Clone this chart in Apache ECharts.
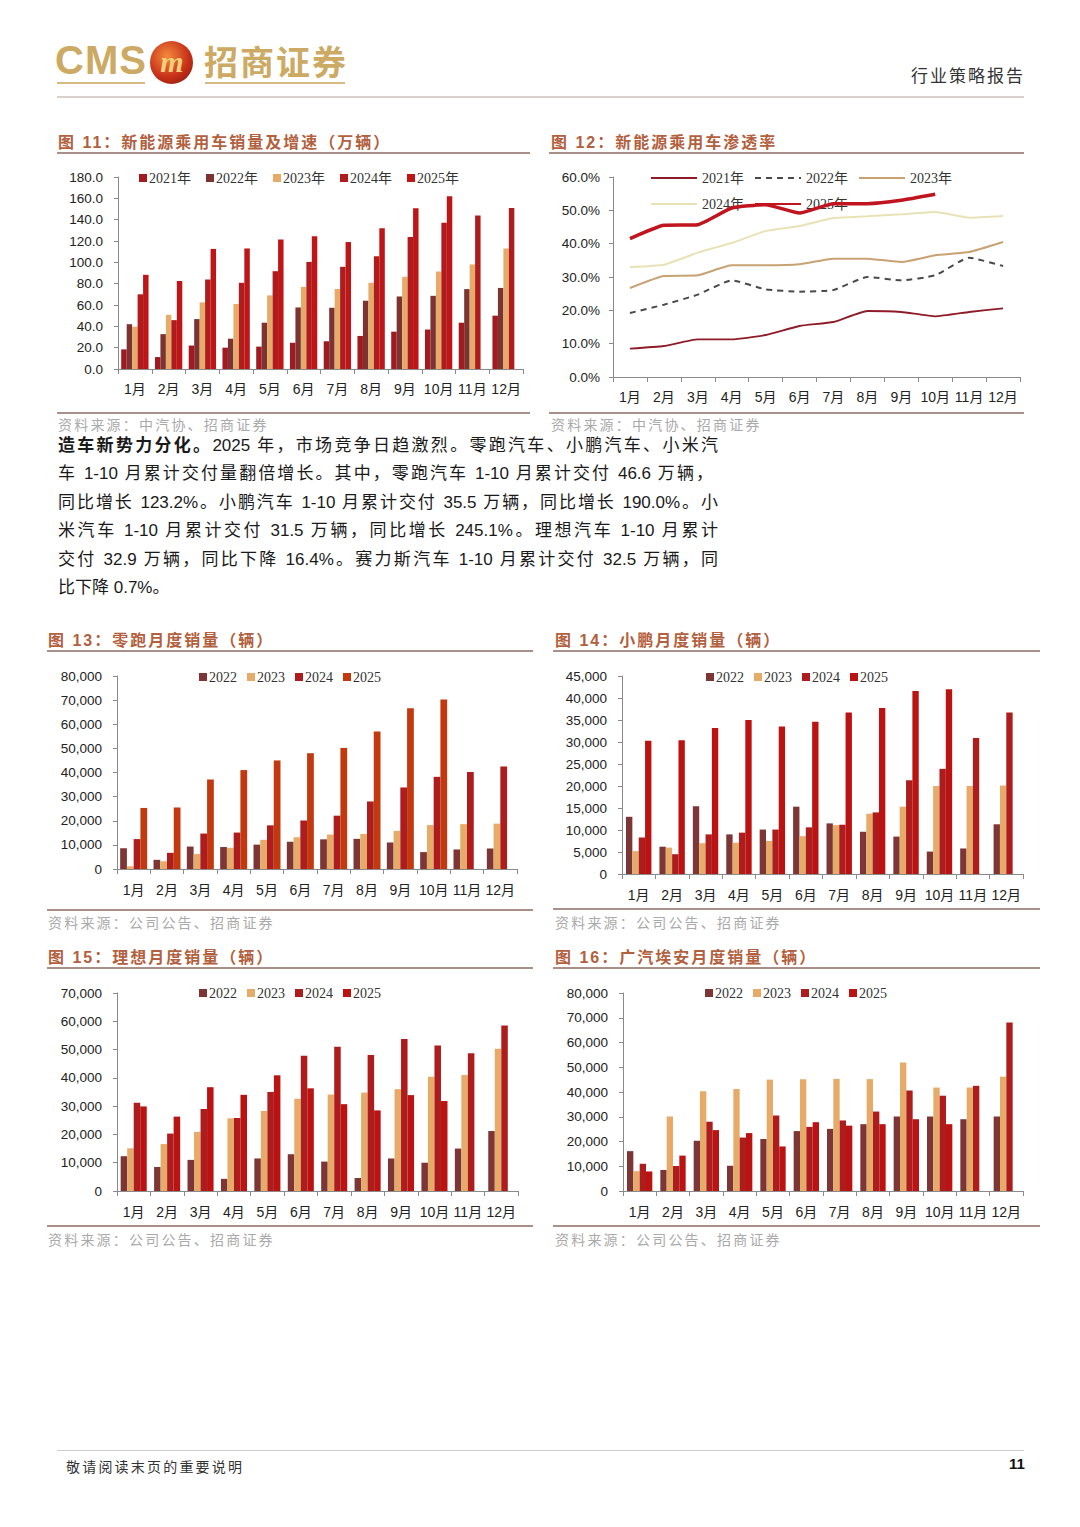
<!DOCTYPE html>
<html><head><meta charset="utf-8">
<script src="https://cdn.jsdelivr.net/npm/echarts@6/dist/echarts.min.js"></script>
<style>
html,body{margin:0;padding:0;background:#fff;}
body{width:1080px;height:1527px;position:relative;overflow:hidden;font-family:"Liberation Sans","Noto Sans CJK SC",sans-serif;color:#222;}
.abs{position:absolute;}
.hline{position:absolute;height:0;}
.ttl{position:absolute;font-size:16px;font-weight:700;color:#B2603E;letter-spacing:2px;white-space:nowrap;}
.src{position:absolute;font-size:14px;color:#AAAAAA;white-space:nowrap;letter-spacing:2.2px;}
.para{position:absolute;left:58px;width:660px;font-size:17px;line-height:28.4px;color:#1a1a1a;}
.para div{text-align:justify;text-align-last:justify;white-space:nowrap;height:28.4px;}
.para div.last{text-align-last:left;}
.chart{position:absolute;}
</style></head>
<body>
<!-- header -->
<div class="abs" style="left:55px;top:38px;font-size:40px;font-weight:700;color:#CDAA64;letter-spacing:1px;line-height:44px;">CMS</div>
<div class="abs" style="left:150px;top:41px;width:43px;height:43px;border-radius:50%;background:radial-gradient(circle at 40% 35%,#F28A3C,#C8321A 55%,#7E1208);"></div>
<div class="abs" style="left:156px;top:40px;width:32px;text-align:center;font-size:30px;font-weight:700;font-style:italic;color:#F3CF7A;line-height:44px;font-family:'Liberation Serif',serif;">m</div>
<div class="abs" style="left:204px;top:38px;font-size:34px;font-weight:700;color:#CDAA64;letter-spacing:2px;line-height:46px;font-family:'Noto Sans CJK SC';">招商证券</div>
<div class="hline" style="left:57px;top:82px;width:88px;border-top:2px solid #D6BB80;"></div>
<div class="hline" style="left:205px;top:82px;width:140px;border-top:2px solid #D6BB80;"></div>
<div class="abs" style="left:911px;top:62px;font-size:17px;color:#333;white-space:nowrap;letter-spacing:2px;">行业策略报告</div>
<div class="hline" style="left:57px;top:96px;width:967px;border-top:2px solid #DCD0CC;"></div>

<!-- fig 11 / 12 titles -->
<div class="ttl" style="left:58px;top:129px;">图 11：新能源乘用车销量及增速（万辆）</div>
<div class="hline" style="left:57px;top:152px;width:473px;border-top:2px solid #A89088;"></div>
<div class="ttl" style="left:551px;top:129px;">图 12：新能源乘用车渗透率</div>
<div class="hline" style="left:549px;top:152px;width:475px;border-top:2px solid #A89088;"></div>

<div id="c11" class="chart" style="left:50px;top:160px;width:490px;height:250px;"></div>
<div id="c12" class="chart" style="left:545px;top:160px;width:490px;height:250px;"></div>

<div class="hline" style="left:57px;top:412px;width:473px;border-top:2px solid #A89088;"></div>
<div class="hline" style="left:549px;top:412px;width:475px;border-top:2px solid #A89088;"></div>
<div class="src" style="left:58px;top:414px;">资料来源：中汽协、招商证券</div>
<div class="src" style="left:551px;top:414px;">资料来源：中汽协、招商证券</div>

<div class="para" style="top:432px;">
<div><b>造车新势力分化。</b>2025 年，市场竞争日趋激烈。零跑汽车、小鹏汽车、小米汽</div>
<div style="width:655px;">车 1-10 月累计交付量翻倍增长。其中，零跑汽车 1-10 月累计交付 46.6 万辆，</div>
<div>同比增长 123.2%。小鹏汽车 1-10 月累计交付 35.5 万辆，同比增长 190.0%。小</div>
<div>米汽车 1-10 月累计交付 31.5 万辆，同比增长 245.1%。理想汽车 1-10 月累计</div>
<div>交付 32.9 万辆，同比下降 16.4%。赛力斯汽车 1-10 月累计交付 32.5 万辆，同</div>
<div class="last">比下降 0.7%。</div>
</div>

<!-- fig 13 / 14 -->
<div class="ttl" style="left:48px;top:627px;">图 13：零跑月度销量（辆）</div>
<div class="hline" style="left:47px;top:650px;width:486px;border-top:2px solid #A89088;"></div>
<div class="ttl" style="left:555px;top:627px;">图 14：小鹏月度销量（辆）</div>
<div class="hline" style="left:553px;top:650px;width:487px;border-top:2px solid #A89088;"></div>
<div id="c13" class="chart" style="left:40px;top:660px;width:500px;height:248px;"></div>
<div id="c14" class="chart" style="left:550px;top:660px;width:490px;height:248px;"></div>
<div class="hline" style="left:47px;top:909px;width:486px;border-top:2px solid #A89088;"></div>
<div class="hline" style="left:553px;top:908px;width:487px;border-top:2px solid #A89088;"></div>
<div class="src" style="left:48px;top:912px;">资料来源：公司公告、招商证券</div>
<div class="src" style="left:555px;top:912px;">资料来源：公司公告、招商证券</div>

<!-- fig 15 / 16 -->
<div class="ttl" style="left:48px;top:944px;">图 15：理想月度销量（辆）</div>
<div class="hline" style="left:47px;top:967px;width:486px;border-top:2px solid #A89088;"></div>
<div class="ttl" style="left:555px;top:944px;">图 16：广汽埃安月度销量（辆）</div>
<div class="hline" style="left:553px;top:967px;width:487px;border-top:2px solid #A89088;"></div>
<div id="c15" class="chart" style="left:40px;top:978px;width:500px;height:246px;"></div>
<div id="c16" class="chart" style="left:550px;top:978px;width:490px;height:246px;"></div>
<div class="hline" style="left:47px;top:1225px;width:486px;border-top:2px solid #A89088;"></div>
<div class="hline" style="left:553px;top:1225px;width:487px;border-top:2px solid #A89088;"></div>
<div class="src" style="left:48px;top:1229px;">资料来源：公司公告、招商证券</div>
<div class="src" style="left:555px;top:1229px;">资料来源：公司公告、招商证券</div>

<!-- footer -->
<div class="hline" style="left:57px;top:1450px;width:967px;border-top:1px solid #CCCCCC;"></div>
<div class="abs" style="left:66px;top:1456px;font-size:14px;color:#333;white-space:nowrap;letter-spacing:2.2px;">敬请阅读末页的重要说明</div>
<div class="abs" style="left:1009px;top:1455px;font-size:15px;font-weight:700;color:#111;">11</div>

<script>
// ---------- data ----------
const months = ['1月','2月','3月','4月','5月','6月','7月','8月','9月','10月','11月','12月'];

// Fig 11 新能源乘用车销量（万辆）
const nevYears = ['2021年','2022年','2023年','2024年','2025年'];
const nev2021 = [18.4,11.2,22,20,21,24.6,26,31,35,37,43.4,50];
const nev2022 = [42,32.7,46.8,28.4,43.4,57.7,57.4,64,68,68.6,74.9,76];
const nev2023 = [39.6,50.8,62.4,61,69,77,75,80.8,86.4,91.4,98,113];
const nev2024 = [70,45.8,83.9,80.8,91.7,100.4,95.8,105.7,123.8,137,144,151];
const nev2025 = [88.3,82.6,112.6,113,121.3,124.5,119,132,150.7,162,null,null];

// Fig 12 新能源乘用车渗透率（%）
const pen2021 = [8.5,9.3,11.3,11.3,12.6,15.3,16.5,19.8,19.5,18.2,19.5,20.6];
const pen2022 = [19.2,21.7,24.7,29.0,26.3,25.6,26.1,30.0,29.0,30.5,35.8,33.3];
const pen2023 = [26.7,30.3,30.5,33.5,33.5,33.8,35.5,35.5,34.5,36.5,37.5,40.5];
const pen2024 = [33.0,33.7,37.3,40.2,43.8,45.3,47.7,48.2,48.8,49.5,47.8,48.3];
const pen2025 = [41.5,45.5,45.7,50.7,51.7,49.2,52.0,52.0,53.0,54.8,null,null];

const brandYears = ['2022','2023','2024','2025'];
// Fig 13 零跑
const leap2022 = [8600,3800,9300,9100,10100,11300,12300,12500,11000,7000,8100,8500];
const leap2023 = [1100,3200,6200,8800,12100,13200,14300,14500,15800,18200,18600,18800];
const leap2024 = [12400,6700,14700,15100,18100,20100,22100,28000,33800,38200,40200,42500];
const leap2025 = [25300,25500,37100,41000,45000,48000,50200,57000,66600,70300,null,null];
// Fig 14 小鹏
const xp2022 = [13000,6200,15400,9000,10100,15300,11500,9600,8500,5100,5800,11300];
const xp2023 = [5200,6000,7000,7100,7500,8600,11100,13700,15300,20000,20000,20100];
const xp2024 = [8300,4500,9000,9400,10100,10600,11200,14000,21300,23900,30900,36700];
const xp2025 = [30300,30400,33200,35000,33500,34600,36700,37700,41600,42000,null,null];
// Fig 15 理想
const li2022 = [12300,8500,11000,4300,11500,13000,10400,4600,11500,10000,15000,21200];
const li2023 = [15100,16600,20900,25700,28300,32600,34100,34800,36000,40400,41000,50300];
const li2024 = [31200,20300,29000,25800,35000,47800,51000,48100,53700,51400,48700,58500];
const li2025 = [29900,26300,36700,34000,40900,36300,30700,28500,33900,31800,null,null];
// Fig 16 广汽埃安
const aion2022 = [16100,8500,20300,10200,21000,24200,25100,27000,30100,30100,29000,30100];
const aion2023 = [8000,30100,40300,41200,45000,45200,45300,45200,51900,41800,41800,46200];
const aion2024 = [11000,10100,28000,21600,30500,25900,28500,32100,40600,38500,42500,68100];
const aion2025 = [7900,14300,24600,23400,18000,27800,26400,27000,29000,27000,null,null];

// ---------- styles ----------
const AX = '#8a8a8a';
const SANS = '"Liberation Sans","Noto Sans CJK SC",sans-serif';
const SERIF = '"Liberation Serif","Noto Sans CJK SC",serif';

function xAxisCfg(margin){
  return {type:'category',data:months,
    axisLine:{show:true,lineStyle:{color:AX,width:1}},
    axisTick:{show:true,length:5,lineStyle:{color:AX},alignWithLabel:false},
    axisLabel:{color:'#222',fontSize:14,fontFamily:SANS,margin:margin,interval:0},
    splitLine:{show:false}};
}
function yAxisCfg(max,interval,fmt,margin){
  return {type:'value',min:0,max:max,interval:interval,
    axisLine:{show:true,lineStyle:{color:AX,width:1}},
    axisTick:{show:true,length:4,inside:false,lineStyle:{color:AX}},
    axisLabel:{color:'#222',fontSize:13.5,fontFamily:SANS,margin:margin,formatter:fmt},
    splitLine:{show:false}};
}
const thous = v => v===0 ? '0' : v.toLocaleString('en-US');

function barChart(id, o){
  const ch = echarts.init(document.getElementById(id), null, {renderer:'svg'});
  ch.setOption({
    animation:false,
    backgroundColor:'transparent',
    grid:Object.assign({containLabel:false,outerBoundsMode:'none'},o.grid),
    legend:{left:o.legendLeft,top:o.legendTop,itemWidth:8,itemHeight:8,itemGap:o.legendGap,
      icon:'rect',textStyle:{fontSize:14,fontFamily:SERIF,color:'#333',padding:[0,0,0,-3]},
      data:o.names},
    xAxis:xAxisCfg(o.xMargin),
    yAxis:yAxisCfg(o.max,o.interval,o.fmt,o.yMargin),
    series:o.series.map((d,i)=>({name:o.names[i],type:'bar',data:d,
      barGap:'0%',barCategoryGap:o.catGap,itemStyle:{color:o.colors[i]},
      emphasis:{disabled:true}}))
  });
}

// Fig 11
barChart('c11',{
  grid:{left:68,top:17,width:405,height:192},
  names:nevYears, series:[nev2021,nev2022,nev2023,nev2024,nev2025],
  colors:['#A01A20','#7E3333','#E6AB68','#B01B1E','#BE1516'],
  max:180, interval:20, fmt:v=>v.toFixed(1), catGap:'19%',
  legendLeft:84, legendTop:6, legendGap:15, xMargin:13, yMargin:15
});

// Fig 13
barChart('c13',{
  grid:{left:77,top:16,width:400,height:193},
  names:brandYears, series:[leap2022,leap2023,leap2024,leap2025],
  colors:['#7E3535','#E6AB68','#AE1D1D','#C2380F'],
  max:80000, interval:10000, fmt:thous, catGap:'19%',
  legendLeft:154, legendTop:5, legendGap:10, xMargin:14, yMargin:15
});
// Fig 14
barChart('c14',{
  grid:{left:72,top:16,width:401,height:198},
  names:brandYears, series:[xp2022,xp2023,xp2024,xp2025],
  colors:['#7E3535','#E6AB68','#AE1D1D','#BB1212'],
  max:45000, interval:5000, fmt:thous, catGap:'24%',
  legendLeft:151, legendTop:5, legendGap:10, xMargin:14, yMargin:15
});
// Fig 15
barChart('c15',{
  grid:{left:77,top:15,width:401,height:198},
  names:brandYears, series:[li2022,li2023,li2024,li2025],
  colors:['#7E3535','#E6AB68','#AE1D1D','#BB1212'],
  max:70000, interval:10000, fmt:thous, catGap:'22%',
  legendLeft:154, legendTop:3, legendGap:10, xMargin:14, yMargin:15
});
// Fig 16
barChart('c16',{
  grid:{left:73,top:15,width:400,height:198},
  names:brandYears, series:[aion2022,aion2023,aion2024,aion2025],
  colors:['#7E3535','#E6AB68','#AE1D1D','#BB1212'],
  max:80000, interval:10000, fmt:thous, catGap:'24%',
  legendLeft:150, legendTop:3, legendGap:10, xMargin:14, yMargin:15
});

// Fig 12 line chart
(function(){
  const ch = echarts.init(document.getElementById('c12'), null, {renderer:'svg'});
  const names = ['2021年','2022年','2023年','2024年','2025年'];
  const data = [pen2021,pen2022,pen2023,pen2024,pen2025];
  const styles = [
    {color:'#8E1B28',width:1.8,type:'solid'},
    {color:'#4a4a4a',width:2,type:[6,5]},
    {color:'#C9A273',width:2,type:'solid'},
    {color:'#E9E2B6',width:2,type:'solid'},
    {color:'#C0151E',width:3.5,type:'solid'}
  ];
  ch.setOption({
    animation:false,
    grid:{left:68,top:17,width:407,height:200,containLabel:false,outerBoundsMode:'none'},
    legend:{left:100,top:5,width:320,itemWidth:46,itemHeight:14,itemGap:10,
      itemStyle:{opacity:0,borderWidth:0},
      textStyle:{fontSize:14,lineHeight:16,fontFamily:SERIF,color:'#333'},data:names},
    xAxis:Object.assign(xAxisCfg(13),{boundaryGap:true}),
    yAxis:yAxisCfg(60,10,v=>v.toFixed(1)+'%',13),
    series:data.map((d,i)=>({name:names[i],type:'line',data:d,symbol:'none',showSymbol:false,
      smooth:0.15,lineStyle:styles[i],itemStyle:{color:styles[i].color},emphasis:{disabled:true},
      z: i===4?5:2}))
  });
})();
</script>
</body></html>
